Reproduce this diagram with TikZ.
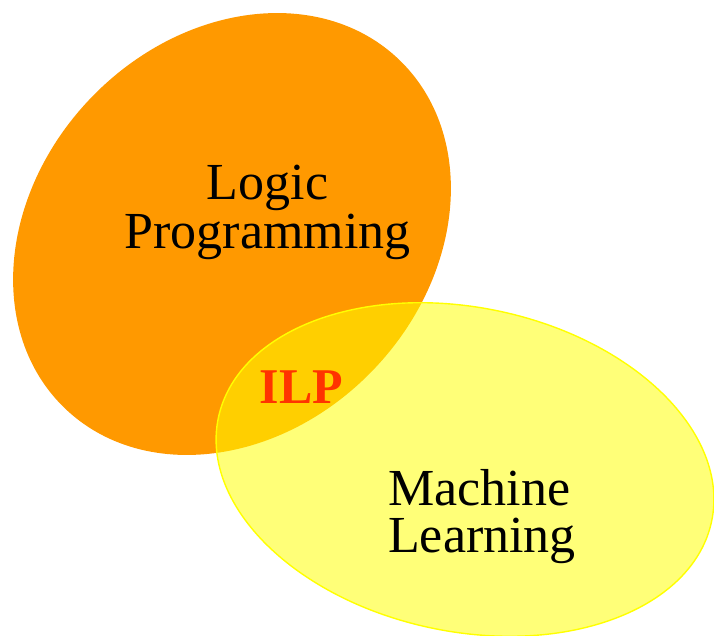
\documentclass[tikz,border=0pt]{standalone}
\usepackage{fontspec}
\setmainfont{Liberation Serif}
\definecolor{lpOrange}{HTML}{FF9900}
\definecolor{mlYellow}{HTML}{FFFF00}
\definecolor{ilpRed}{HTML}{FF3300}
\begin{document}
\begin{tikzpicture}[x=1pt,y=1pt,
  label/.style={inner sep=0pt, text=black, font=\fontsize{52}{52}\selectfont},
  ilplabel/.style={inner sep=0pt, text=ilpRed, font=\fontsize{50}{50}\selectfont\bfseries}]
\useasboundingbox (0,0) rectangle (714,-636);
% Logic programming set
\fill[lpOrange, rotate around={46.3:(232,-234)}] (232,-234) ellipse [x radius=241.5, y radius=196];
% Machine learning set, translucent so the overlap shows through
\fill[mlYellow, fill opacity=0.53, rotate around={-11.8:(465,-469.5)}] (465,-469.5) ellipse [x radius=252, y radius=162];
\draw[mlYellow, line width=1.4pt, rotate around={-11.8:(465,-469.5)}] (465,-469.5) ellipse [x radius=252, y radius=162];
% Labels
\node[label, anchor=base] (lp1) at (267.5,-200) {Logic};
\node[label, anchor=base] (lp2) at (267.5,-248) {Programming};
\node[label, anchor=base west] (ml1) at (388,-505) {Machine};
\node[label, anchor=base west] (ml2) at (388,-552) {Learning};
\node[ilplabel, anchor=base] (ilp) at (301.5,-403) {ILP};
\end{tikzpicture}
\end{document}
